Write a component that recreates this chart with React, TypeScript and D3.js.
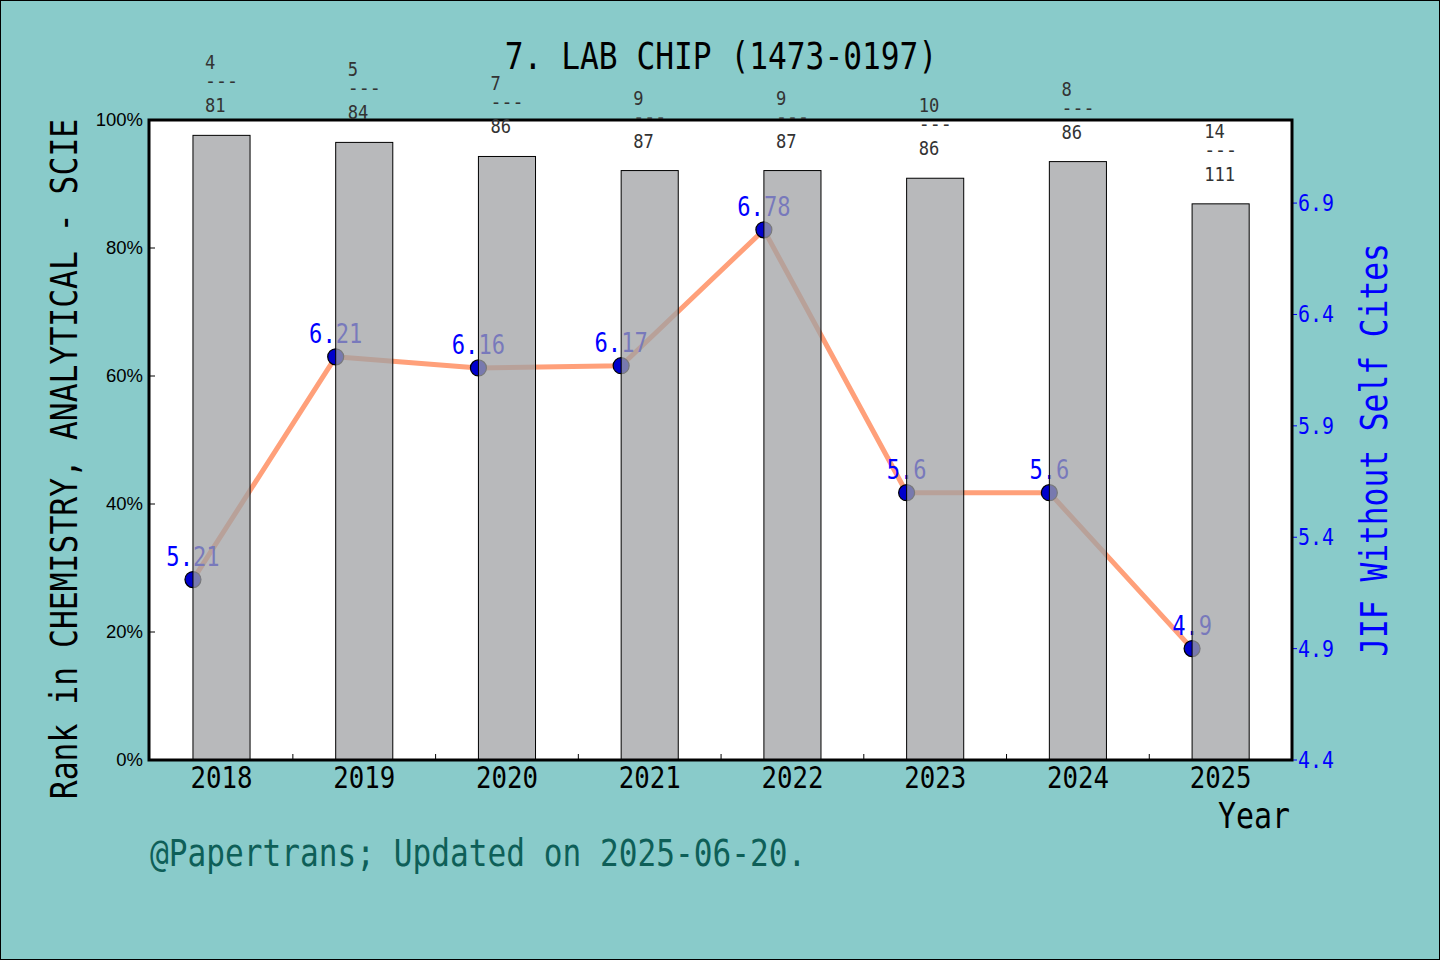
import React from "react";
import * as d3 from "d3";

const years = ["2018", "2019", "2020", "2021", "2022", "2023", "2024", "2025"];
const rankPct = [97.6, 96.5, 94.3, 92.1, 92.1, 90.9, 93.5, 86.9];
const rankNum = ["4", "5", "7", "9", "9", "10", "8", "14"];
const rankTotal = ["81", "84", "86", "87", "87", "86", "86", "111"];
const jif = [5.21, 6.21, 6.16, 6.17, 6.78, 5.6, 5.6, 4.9];
const jifLabels = ["5.21", "6.21", "6.16", "6.17", "6.78", "5.6", "5.6", "4.9"];
const leftTicks = [0, 20, 40, 60, 80, 100];
const rightTicks = [4.4, 4.9, 5.4, 5.9, 6.4, 6.9];

const W = 1440;
const H = 960;
const L = 149, R = 1292, T = 120, B = 760;
const MONO = "'DejaVu Sans Mono', 'Liberation Mono', monospace";

function MText(props: {
  x: number; y: number; text: string; size: number; cw: number;
  anchor?: string; fill?: string; transform?: string;
}) {
  const { x, y, text, size, cw, anchor = "start", fill = "#000", transform } = props;
  return (
    <text
      x={x}
      y={y}
      fontFamily={MONO}
      fontSize={size}
      textAnchor={anchor}
      fill={fill}
      textLength={text.length * cw}
      lengthAdjust="spacingAndGlyphs"
      transform={transform}
      style={{ whiteSpace: "pre" }}
    >
      {text}
    </text>
  );
}

export default function App() {
  const x = d3.scaleLinear().domain([-0.308, 7.7]).range([L, R]);
  const yL = d3.scaleLinear().domain([0, 100]).range([B, T]);
  const yR = d3.scaleLinear().domain([4.4, 7.273]).range([B, T]);
  const barW = x(0.4) - x(0);

  const line = d3
    .line<number>()
    .x((_, i) => x(i))
    .y((d) => yR(d));

  const minorTicks = d3.range(0, 7).map((i) => i + 0.7);

  return (
    <svg
      width={W}
      height={H}
      viewBox={`0 0 ${W} ${H}`}
      style={{ position: "absolute", left: 0, top: 0 }}
    >
      <rect x={0.5} y={0.5} width={W - 1} height={H - 1} fill="#89cbca" stroke="#000" strokeWidth={1} />
      <rect x={L} y={T} width={R - L} height={B - T} fill="#ffffff" />

      {/* JIF line, markers and labels (under the bars) */}
      <path d={line(jif) || ""} fill="none" stroke="#ffa07a" strokeWidth={5} strokeLinejoin="round" />
      {jif.map((v, i) => (
        <circle key={"m" + i} cx={x(i)} cy={yR(v)} r={8} fill="#0000cd" stroke="#000" strokeWidth={1.2} />
      ))}
      {jif.map((v, i) => (
        <MText
          key={"l" + i}
          x={x(i)}
          y={yR(v) - 14}
          text={jifLabels[i]}
          size={27}
          cw={13.3}
          anchor="middle"
          fill="#0000ff"
        />
      ))}

      {/* bars */}
      {rankPct.map((v, i) => (
        <rect
          key={"b" + i}
          x={x(i)}
          y={yL(v)}
          width={barW}
          height={yL(0) - yL(v)}
          fill="rgb(160,161,164)"
          fillOpacity={0.75}
          stroke="#000"
          strokeWidth={1}
        />
      ))}

      {/* left axis ticks */}
      {leftTicks.map((t) => (
        <g key={"lt" + t}>
          <line x1={L} x2={L + 6} y1={yL(t)} y2={yL(t)} stroke="#000" strokeWidth={1} />
          <text
            x={143}
            y={yL(t) + 6}
            fontFamily="'Liberation Sans', Arial, sans-serif"
            fontSize={18.5}
            textAnchor="end"
            fill="#000"
          >
            {t + "%"}
          </text>
        </g>
      ))}

      {/* right axis ticks */}
      {rightTicks.map((t) => (
        <g key={"rt" + t}>
          <line x1={R} x2={R + 5} y1={yR(t)} y2={yR(t)} stroke="#0000ff" strokeWidth={1} />
          <MText x={1298} y={yR(t) + 8} text={t.toFixed(1)} size={23} cw={12} fill="#0000ff" />
        </g>
      ))}

      {/* bottom minor ticks */}
      {minorTicks.map((t) => (
        <line key={"mt" + t} x1={x(t)} x2={x(t)} y1={B} y2={B - 6} stroke="#000" strokeWidth={1} />
      ))}

      {/* year labels */}
      {years.map((yv, i) => (
        <MText key={"y" + i} x={x(i + 0.2)} y={788} text={yv} size={30} cw={15.5} anchor="middle" />
      ))}

      {/* spines */}
      <rect x={L} y={T} width={R - L} height={B - T} fill="none" stroke="#000" strokeWidth={3} />

      {/* rank annotations: one multi-line text per bar */}
      {rankPct.map((v, i) => {
        const cx = x(i + 0.2);
        const left = cx - 16.5;
        const top = yL(v);
        return (
          <text
            key={"a" + i}
            fontFamily={MONO}
            fontSize={19}
            fill="#333333"
            lengthAdjust="spacingAndGlyphs"
            style={{ whiteSpace: "pre" }}
          >
            <tspan x={left} y={top - 66} textLength={rankNum[i].length * 10.3} lengthAdjust="spacingAndGlyphs">
              {rankNum[i]}
            </tspan>
            <tspan x={left} y={top - 47} textLength={33} lengthAdjust="spacingAndGlyphs">
              {"---"}
            </tspan>
            <tspan x={left} y={top - 23} textLength={rankTotal[i].length * 10.3} lengthAdjust="spacingAndGlyphs">
              {rankTotal[i]}
            </tspan>
          </text>
        );
      })}

      {/* titles */}
      <MText x={721} y={69} text="7. LAB CHIP (1473-0197)" size={37} cw={18.8} anchor="middle" />
      <MText
        x={0}
        y={0}
        text="Rank in CHEMISTRY, ANALYTICAL - SCIE"
        size={37}
        cw={18.9}
        anchor="middle"
        transform="translate(77,459) rotate(-90)"
      />
      <MText
        x={0}
        y={0}
        text="JIF Without Self Cites"
        size={37}
        cw={18.8}
        anchor="middle"
        fill="#0000ff"
        transform="translate(1387,450) rotate(-90)"
      />
      <MText x={1290} y={828} text="Year" size={36} cw={18} anchor="end" />
      <MText x={150} y={866} text="@Papertrans; Updated on 2025-06-20." size={37} cw={18.75} fill="#0e5f58" />
    </svg>
  );
}
